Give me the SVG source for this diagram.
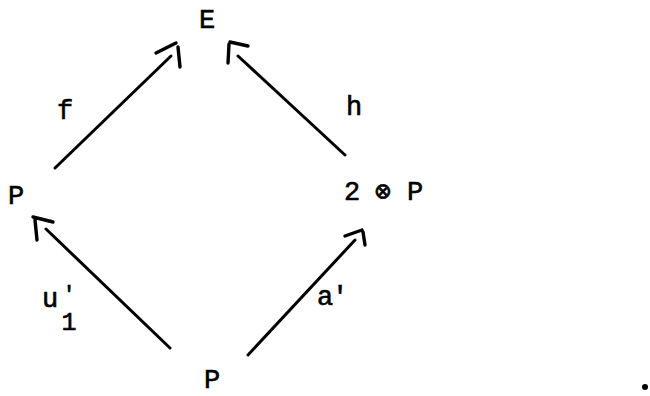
<svg xmlns="http://www.w3.org/2000/svg" width="650" height="396" viewBox="0 0 650 396">
<style>
  text { font-family: "Liberation Mono", "DejaVu Sans Mono", monospace; font-size: 27px; fill: #000; stroke: #000; stroke-width: 0.6; }
  .lbl { text-anchor: middle; }
  .shaft { fill: none; stroke: #000; stroke-width: 3; stroke-linecap: round; }
  .head { fill: none; stroke: #000; stroke-width: 3.4; stroke-linecap: round; stroke-linejoin: round; }
</style>
<rect width="650" height="396" fill="#fff"/>
<g id="connectors">
  <g id="f">
    <line class="shaft" x1="55" y1="168" x2="171" y2="56"/>
    <path class="head" d="M156 53 L176 43 M178 47 L180 67"/>
    <text class="lbl" x="65" y="119">f</text>
  </g>
  <g id="h">
    <line class="shaft" x1="345" y1="155" x2="238" y2="56"/>
    <path class="head" d="M248 46 L230 42 M229 44 L228 63"/>
    <text class="lbl" x="354" y="115">h</text>
  </g>
  <g id="u1">
    <line class="shaft" x1="170" y1="348" x2="46" y2="229"/>
    <path class="head" d="M53 222 L33 217 M35 220 L37 240"/>
    <text class="lbl" x="50" y="307">u<tspan x="69" y="301" style="font-size:22px">'</tspan><tspan x="69" y="330" style="font-size:25px">1</tspan></text>
  </g>
  <g id="a">
    <line class="shaft" x1="248" y1="355" x2="355" y2="240"/>
    <path class="head" d="M345 236 L362 230 M363 232 L365 245"/>
    <text class="lbl" x="325 340" y="305">a'</text>
  </g>
</g>
<g id="node-E"><text class="lbl" x="207" y="28">E</text></g>
<g id="node-P-left"><text class="lbl" x="16" y="204">P</text></g>
<g id="node-2P"><text class="lbl" x="352 368 383 399 415" y="200">2 ⊗ P</text></g>
<g id="node-P-bottom"><text class="lbl" x="212" y="388">P</text></g>
<circle cx="645" cy="387" r="3" fill="#000"/>
</svg>
